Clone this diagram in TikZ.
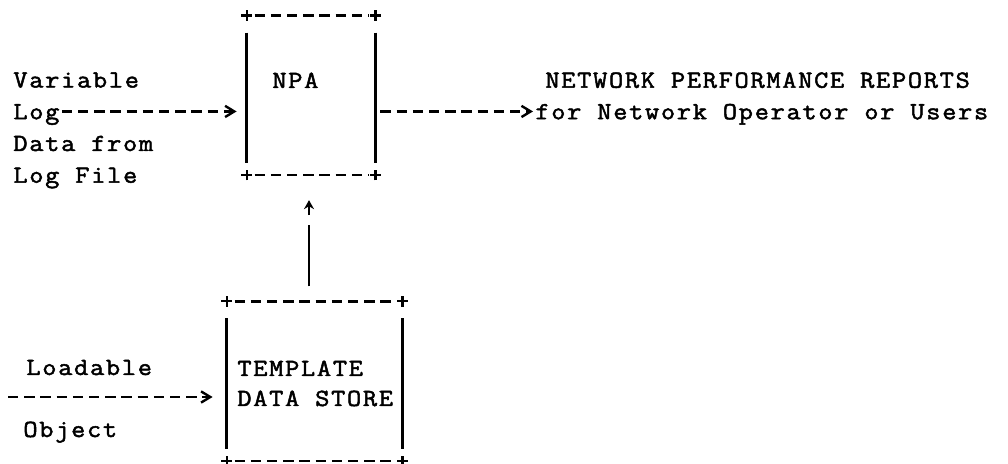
\documentclass[tikz,border=0pt]{standalone}
\usepackage{fontspec}
\newfontfamily\typewriter{Latin Modern Mono}[FakeStretch=1.12, LetterSpace=7, FakeBold=2]
\usetikzlibrary{arrows.meta}

\begin{document}
\begin{tikzpicture}[
    x=0.5pt, y=-0.5pt,
    % Text styles
    txt/.style={
        inner sep=0pt, anchor=base west,
        font=\typewriter\fontsize{12.3}{15.9}\selectfont,
      },
    % Box styles (the frame is drawn by hand, typewriter fashion)
    boxarea/.style={
        rectangle, inner sep=0pt, minimum height=79.375pt,
      },
    hdash/.style={
        line width=1.2pt, dash pattern=on 5.2pt off 2.9pt,
      },
    vbar/.style={
        line width=1.3pt,
      },
    dasharrow/.style={
        hdash, -{Straight Barb[length=4.6pt,width=5.6pt,line width=1.2pt]},
      },
    pics/corner/.style={
        code={\draw[line width=1.1pt] (-2.6pt,0) -- (2.6pt,0) (0,-2.6pt) -- (0,2.6pt);}
      },
  ]
  \useasboundingbox[fill=white] (0,0) rectangle (1008,464);

  % --- Boxes ---
  \node[boxarea, minimum width=64pt] (npa) at (311,95.375) {};
  \node[boxarea, minimum width=87.5pt] (tds) at (314.5,381.125) {};

  \foreach \bx in {npa, tds} {
      \pic at (\bx.north west) {corner};
      \pic at (\bx.north east) {corner};
      \pic at (\bx.south west) {corner};
      \pic at (\bx.south east) {corner};
      \draw[hdash] ([xshift=4pt]\bx.north west) -- ([xshift=-3pt]\bx.north east);
      \draw[hdash] ([xshift=4pt]\bx.south west) -- ([xshift=-3pt]\bx.south east);
      \draw[vbar] ([yshift=-8.5pt]\bx.north west) -- ([yshift=6pt]\bx.south west);
      \draw[vbar] ([yshift=-8.5pt]\bx.north east) -- ([yshift=6pt]\bx.south east);
    }

  % --- Texts in the boxes ---
  \node[txt] (npaname) at (272,88) {NPA};
  \node[txt] (tplline) at (237,376) {TEMPLATE};
  \node[txt] (dsline) at (237,406) {DATA STORE};

  % --- Input on the left of NPA ---
  \foreach \txt/\r in {Variable/2, Log/3, Data from/4, Log File/5} {
      \node[txt] (left\r) at (13,{24+31.75*\r}) {\txt};
    }
  \draw[dasharrow, shorten >=5pt] ([xshift=1pt,yshift=3.9pt]left3.base east)
    -- ([yshift=3.9pt]left3.base east -| npa.west);

  % --- Output on the right of NPA ---
  \node[txt] (forline) at (535,119.25) {for Network Operator or Users};
  \node[txt] (reporthead) at ([xshift=5pt,yshift=15.75pt]forline.base west) {NETWORK PERFORMANCE REPORTS};
  \draw[dasharrow, shorten >=1pt] ([xshift=2.5pt,yshift=3.9pt]npa.east |- forline.base)
    -- ([yshift=3.9pt]forline.base west);

  % --- Template store feeds NPA ---
  \coordinate (upx) at (309,0);
  \draw[vbar] ([yshift=7.5pt]tds.north -| upx) -- ([yshift=-25pt]npa.south -| upx) coordinate (stemtop);
  \draw[vbar, -{Stealth[length=4.5pt,width=5pt]}] ([yshift=5pt]stemtop)
    -- ([yshift=-12.5pt]npa.south -| upx);

  % --- Loadable object into the store ---
  \node[txt] (loadline) at (26,375) {Loadable};
  \node[txt] (objline) at (23,437) {Object};
  \coordinate (objtail) at (8,397);
  \draw[dasharrow, shorten >=7pt] (objtail) -- (objtail -| tds.west);

\end{tikzpicture}
\end{document}
